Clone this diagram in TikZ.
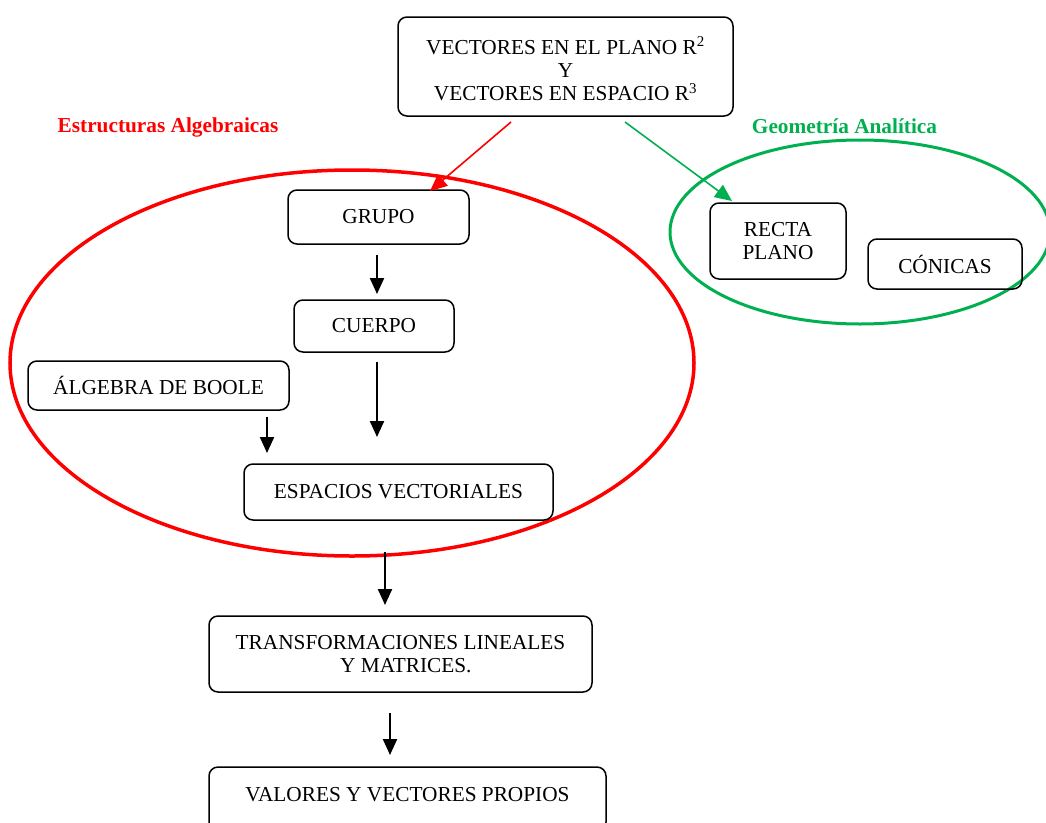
\documentclass[tikz,border=0pt]{standalone}
\usepackage{fontspec}
\setmainfont{Liberation Serif}
\usetikzlibrary{arrows.meta}
\definecolor{gaGreen}{RGB}{0,176,80}
\begin{document}
\begin{tikzpicture}[x=1pt,y=-1pt,
  box/.style={draw=black,line width=1.5pt,rounded corners=9pt,inner sep=0pt,align=center,font=\fontsize{21.3}{23.5}\selectfont},
  arr/.style={line width=2.2pt,-{Triangle[length=16pt,width=14pt]}},
  carr/.style={line width=1.6pt,-{Triangle[length=17pt,width=15pt]}},
  lbl/.style={font=\fontsize{21.3}{23}\selectfont\bfseries}]
\useasboundingbox (0,0) rectangle (1046,822);
\begin{scope}
\clip (0,0) rectangle (1046,822);
% ellipses
\draw[red,line width=3.5pt] (352,363) ellipse [x radius=342, y radius=193];
\draw[gaGreen,line width=3pt] (860,232) ellipse [x radius=190, y radius=92];
% boxes
\node[box,minimum width=335,minimum height=99] (top) at (565.5,66.5) {};
\node[font=\fontsize{21.3}{23.2}\selectfont,align=center] (toptxt) at (565.5,69) {VECTORES EN EL PLANO R\textsuperscript{2}\\Y\\VECTORES EN ESPACIO R\textsuperscript{3}};
\node[box,minimum width=181,minimum height=54] (grupo) at (378.5,217) {GRUPO};
\node[box,minimum width=160,minimum height=52] (cuerpo) at (374,326) {CUERPO};
\node[box,minimum width=261,minimum height=49] (boole) at (158.5,385.5) {ÁLGEBRA DE BOOLE};
\node[box,minimum width=309,minimum height=56] (esp) at (398.5,492) {ESPACIOS VECTORIALES};
\node[box,minimum width=383,minimum height=76] (trans) at (400.5,654) {TRANSFORMACIONES LINEALES\\\ \ Y MATRICES.};
\node[box,minimum width=397,minimum height=64] (valores) at (407.5,799) {};
\node[font=\fontsize{21.3}{23}\selectfont] (valtxt) at (407.5,794.5) {VALORES Y VECTORES PROPIOS};
\node[box,minimum width=136,minimum height=76] (recta) at (778,241) {RECTA\\PLANO};
\node[box,minimum width=154,minimum height=50] (conicas) at (945,264) {CÓNICAS};
% labels
\node[lbl,text=red] (ealg) at (168,127) {Estructuras Algebraicas};
\node[lbl,text=gaGreen] (geo) at (844.5,126.5) {Geometría Analítica};
% arrows
\coordinate (r1) at (511,122); \coordinate (r2) at (430,191);
\coordinate (g1) at (625,122); \coordinate (g2) at (732,201);
\coordinate (b1) at (377,255); \coordinate (b2) at (377,294);
\coordinate (b3) at (377,362); \coordinate (b4) at (377,437);
\coordinate (b5) at (267,417); \coordinate (b6) at (267,453);
\coordinate (b7) at (385,552); \coordinate (b8) at (385,605);
\coordinate (b9) at (390,713); \coordinate (b10) at (390,755);
\draw[carr,red] (r1) -- (r2);
\draw[carr,gaGreen] (g1) -- (g2);
\draw[arr] (b1) -- (b2);
\draw[arr] (b3) -- (b4);
\draw[arr] (b5) -- (b6);
\draw[arr] (b7) -- (b8);
\draw[arr] (b9) -- (b10);
\end{scope}
\end{tikzpicture}
\end{document}
